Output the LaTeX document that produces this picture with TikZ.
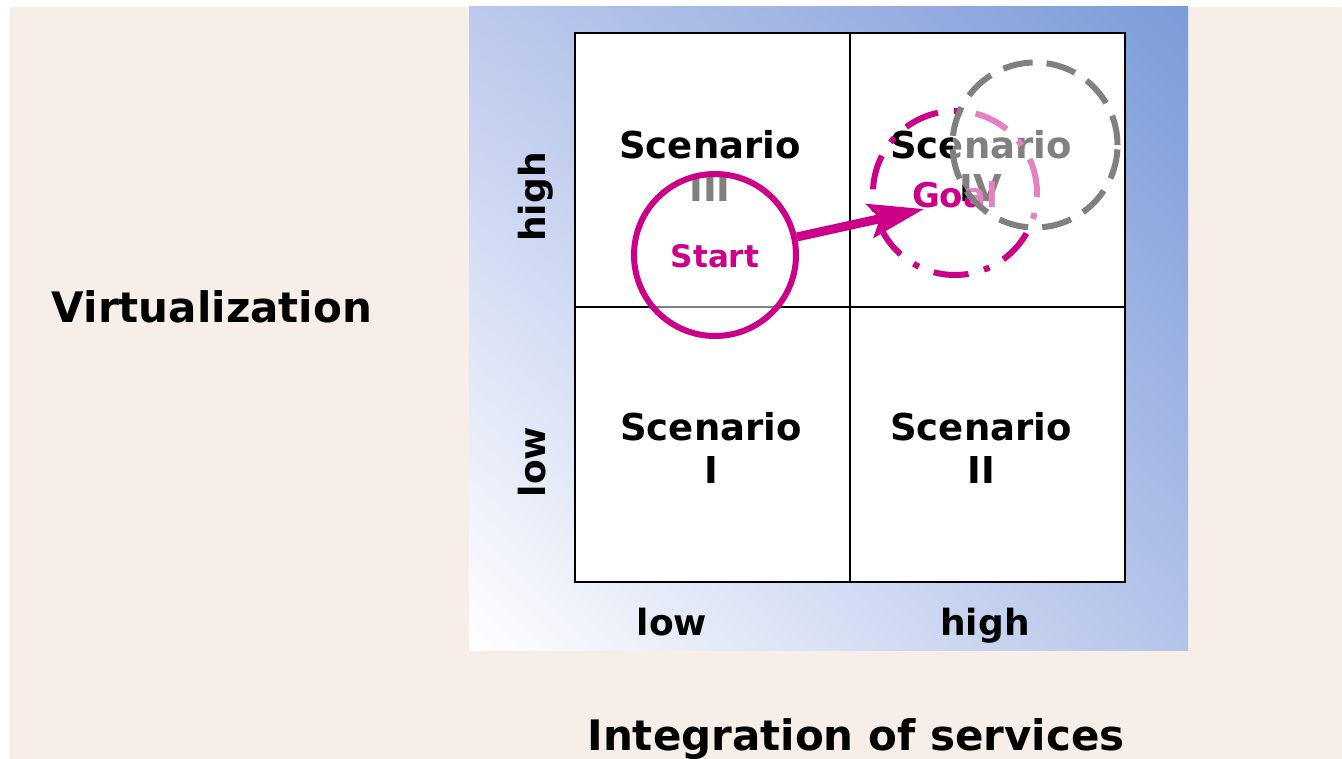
\documentclass[tikz,border=0pt]{standalone}
\usepackage{fontspec}
\setmainfont{DejaVu Sans}
\usetikzlibrary{arrows.meta,shadings}
\definecolor{beige}{HTML}{F7EEE8}
\definecolor{mag}{HTML}{CC0088}
\definecolor{gr}{HTML}{808080}
\definecolor{bTL}{HTML}{BCC9EC}
\definecolor{bTR}{HTML}{7B9BD9}
\definecolor{bBR}{HTML}{B4C3E9}
\begin{document}
\begin{tikzpicture}[x=1pt,y=-1pt,
  scen/.style={align=center, font=\bfseries\fontsize{37}{43}\selectfont, inner sep=0pt},
  big/.style={font=\bfseries\fontsize{42}{48}\selectfont, inner sep=0pt, anchor=base},
  ax/.style={font=\bfseries\fontsize{36}{42}\selectfont, inner sep=0pt, anchor=base},
  lab/.style={font=\bfseries\fontsize{31}{36}\selectfont, inner sep=0pt, anchor=base, text=mag},
  ring/.style={circle, line width=6pt, inner sep=0pt, minimum size=#1},
  gridline/.style={line width=2.5pt, black}]
\useasboundingbox (0,0) rectangle (1342,759);
\fill[white] (0,0) rectangle (1342,759);
\fill[beige] (10,7) rectangle (1342,759);
\shade[upper left=bTL, upper right=bTR, lower left=white, lower right=bBR] (469,7) rectangle (1188,650);
% grid
\draw[gridline, fill=white] (575,33) rectangle (1125,582);
\draw[gridline] (850,33) -- (850,582);
\draw[gridline] (575,307) -- (1125,307);
% scenario texts
\node[scen] (s3) at (710,166) {Scenario\\III};
\node[scen] (s4) at (981,166) {Scenario\\IV};
\node[scen] (s1) at (711,448) {Scenario\\I};
\node[scen] (s2) at (981,448) {Scenario\\II};
% axis labels
\node[ax, rotate=90] (yhigh) at (545,197) {high};
\node[ax, rotate=90] (ylow) at (545,462) {low};
\node[ax] (xlow) at (672,635) {low};
\node[ax] (xhigh) at (985,635) {high};
\node[big] (vlab) at (212,323) {Virtualization};
\node[big] (xlab) at (856,750) {Integration of services};
% start
\node[ring=162pt, draw=mag, fill=white, fill opacity=0.5] (start) at (715,255) {};
\node[lab] (starttxt) at (715,268) {Start};
% goal
\node[ring=164pt, draw=mag, dash pattern=on 35pt off 16pt on 6pt off 16pt] (goal) at (955,193) {};
\node[lab, font=\bfseries\fontsize{34}{40}\selectfont] (goaltxt) at (955,208) {Goal};
% scenario IV target
\node[ring=165pt, draw=gr, dash pattern=on 30pt off 14pt, fill=white, fill opacity=0.5] (target) at (1035,145) {};
% arrow
\coordinate (tip) at (924,209);
\draw[mag, line width=9pt, -{Stealth[length=55pt,width=34pt,inset=10pt]}] (start) -- (tip);
\end{tikzpicture}
\end{document}
